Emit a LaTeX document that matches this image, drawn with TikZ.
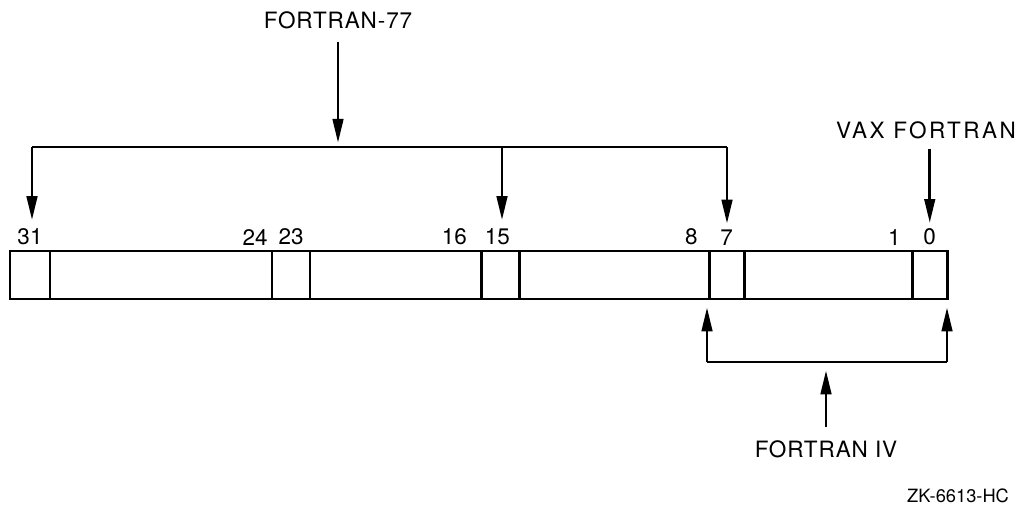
\documentclass[tikz,border=0pt]{standalone}
\usepackage{fontspec}
\setmainfont{TeX Gyre Heros}
\usetikzlibrary{arrows.meta,positioning}
\tikzset{
  cell/.style = {
    rectangle,
    draw=black,
    line width=2pt,
    minimum height=1.2cm,
    inner sep=0pt,
    outer sep=0pt
  },
  bitnum/.style = {
    font=\fontsize{16}{19}\selectfont,
    inner sep=1pt
  },
  lang/.style = {
    font=\fontsize{16}{19}\selectfont\addfontfeature{LetterSpace=4},
    inner sep=1pt
  },
  wire/.style = {
    line width=2pt,
    line join=round
  },
  ptr/.style = {
    line width=2pt,
    -{Triangle[length=17pt,width=7.5pt]}
  }
}

\begin{document}
\begin{tikzpicture}[x=0.025cm, y=-0.025cm]
\useasboundingbox (0,0) rectangle (1018,508);

% Longword - Zellen
\node[cell, minimum width=1cm, anchor=north west] (b31) at (10,251) {};
\node[cell, minimum width=5.55cm, right=0pt of b31] (f30) {};
\node[cell, minimum width=0.95cm, right=0pt of f30] (b23) {};
\node[cell, minimum width=4.275cm, right=0pt of b23] (f22) {};
\node[cell, minimum width=0.95cm, right=0pt of f22] (b15) {};
\node[cell, minimum width=4.75cm, right=0pt of b15] (f14) {};
\node[cell, minimum width=0.875cm, right=0pt of f14] (b7) {};
\node[cell, minimum width=4.2cm, right=0pt of b7] (f6) {};
\node[cell, minimum width=0.875cm, right=0pt of f6] (b0) {};

% Bitnummern
\node[bitnum, above=3pt of b31] (n31) {31};
\node[bitnum, above left=3pt and 2pt of f30.north east] (n24) {24};
\node[bitnum, above=3pt of b23] (n23) {23};
\node[bitnum, above left=3pt and 9pt of f22.north east] (n16) {16};
\node[bitnum, above=3pt of b15, xshift=-2pt] (n15) {15};
\node[bitnum, above left=3pt and 7pt of f14.north east] (n8) {8};
\node[bitnum, above=3pt of b7] (n7) {7};
\node[bitnum, above left=3pt and 7pt of f6.north east] (n1) {1};
\node[bitnum, above=3pt of b0] (n0) {0};

% Sprachen
\node[lang] (f77) at (338,20) {FORTRAN-77};
\node[lang, font=\fontsize{16}{19}\selectfont\addfontfeature{LetterSpace=11}] (vax) at (926,130) {VAX FORTRAN};
\node[lang] (f4) at (826,449) {FORTRAN IV};
\node[font=\fontsize{13}{15}\selectfont, inner sep=0pt] (zk) at (958,496) {ZK-6613-HC};

% FORTRAN-77 Klammer
\coordinate (brL) at (32,147);
\coordinate (brM) at (502,147);
\coordinate (brR) at (727,147);
\draw[wire] (brL) -- (brR);
\draw[ptr, shorten <=8pt, shorten >=3pt] (f77.south) -- (f77.south |- brL);
\draw[ptr, shorten >=5pt] (brL) -- (brL |- n31.north);
\draw[ptr, shorten >=5pt] (brM) -- (brM |- n15.north);
\draw[ptr, shorten >=3pt] (brR) -- (brR |- n7.north);

% VAX FORTRAN
\draw[ptr, shorten <=6pt, shorten >=3pt] (vax.south -| n0) -- (n0.north);

% FORTRAN IV Klammer
\coordinate (ivL) at (707,362);
\coordinate (ivR) at (947,362);
\draw[wire] (ivL) -- (ivR);
\draw[ptr, shorten >=6pt] (ivL) -- (ivL |- b7.south);
\draw[ptr, shorten >=6pt] (ivR) -- (ivR |- b0.south);
\draw[ptr, shorten <=8pt, shorten >=6pt] (f4.north) -- (f4.north |- ivL);

\end{tikzpicture}
\end{document}
